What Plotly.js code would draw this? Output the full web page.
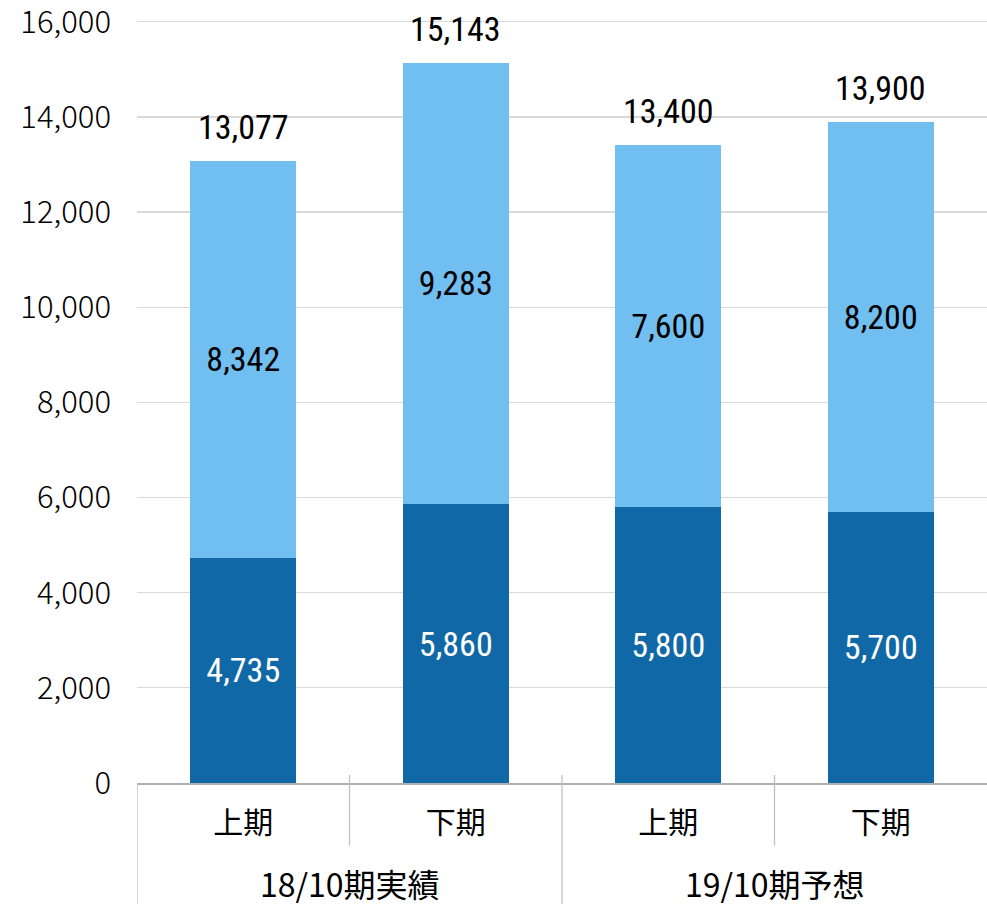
<!DOCTYPE html>
<html><head><meta charset="utf-8">
<script src="https://cdn.plot.ly/plotly-3.0.1.min.js"></script>
<style>html,body{margin:0;padding:0;background:#fff}#chart{width:987px;height:904px}</style>
</head><body><div id="chart"></div>
<script>
const periods = ['上期','下期','上期','下期'];
const groups = ['18/10期実績','18/10期実績','19/10期予想','19/10期予想'];
const lowerValues = [4735, 5860, 5800, 5700];
const upperValues = [8342, 9283, 7600, 8200];
const totals = [13077, 15143, 13400, 13900];
const groupNames = ['18/10期実績','19/10期予想'];
const yTicks = [0, 2000, 4000, 6000, 8000, 10000, 12000, 14000, 16000];

const xIdx = periods.map((p,i)=>i);
const labelFont = {family:'"Roboto Condensed","Liberation Sans Narrow",Roboto,sans-serif', size:34, stretch:'condensed'};
const cjk = '"Noto Sans CJK JP","Noto Sans",sans-serif';

const traces = [
  {type:'bar', x:xIdx, y:lowerValues, marker:{color:'#1068a6'},
   texttemplate:'%{y:,}', textposition:'inside', insidetextanchor:'middle', textangle:0,
   insidetextfont:Object.assign({color:'#ffffff'}, labelFont), hoverinfo:'skip'},
  {type:'bar', x:xIdx, y:upperValues, marker:{color:'#71bef1'},
   texttemplate:'%{y:,}', textposition:'inside', insidetextanchor:'middle', textangle:0,
   insidetextfont:Object.assign({color:'#000000'}, labelFont), hoverinfo:'skip'}
];

const annotations = totals.map((t,i)=>({
  x:i, y:t, xref:'x', yref:'y', text:t.toLocaleString('en-US'), showarrow:false,
  yanchor:'bottom', yshift:12, font:Object.assign({color:'#000'}, labelFont)
}));
groupNames.forEach(g=>{
  const idx = groups.map((v,i)=>v===g?i:-1).filter(i=>i>=0);
  const mid = (idx[0]+idx[idx.length-1])/2;
  annotations.push({x:mid, y:-0.131, xref:'x', yref:'paper', text:g, showarrow:false,
    yanchor:'middle', font:{family:cjk, size:32, color:'#000'}});
});

const lineStyle = {color:'#c0c0c0', width:1.3};
const shapes = [];
const n = periods.length;
for(let i=0;i<n;i++){
  const xb = i-0.5;
  const isGroupBoundary = (i===0) || (groups[i]!==groups[i-1]);
  shapes.push({type:'line', xref:'x', yref:'paper', x0:xb, x1:xb,
    y0: i===0 ? 0 : 0.0105, y1: isGroupBoundary ? -0.16 : -0.0815, line:lineStyle});
}

const layout = {
  width:987, height:904,
  margin:{l:137, r:0, t:17.24, b:121},
  paper_bgcolor:'#fff', plot_bgcolor:'#fff',
  barmode:'stack', bargap:0.5, showlegend:false,
  xaxis:{type:'linear', range:[-0.5, n-0.5], tickvals:xIdx, ticktext:periods,
    showgrid:false, zeroline:false, showline:true, linecolor:'#b0b0b0', linewidth:1.5,
    ticks:'', ticklabelstandoff:12, tickfont:{family:cjk, size:30, color:'#000'}, fixedrange:true},
  yaxis:{range:[0,16100], tickvals:yTicks, tickformat:',', ticklabeloverflow:'allow',
    showgrid:true, gridcolor:'#d9d9d9', gridwidth:1.3,
    zeroline:false, showline:false, ticks:'', ticklabelstandoff:25,
    tickfont:{family:cjk, size:31, color:'#000', weight:300}, fixedrange:true},
  annotations:annotations, shapes:shapes
};
Plotly.newPlot('chart', traces, layout, {displayModeBar:false, staticPlot:true});
</script></body></html>
